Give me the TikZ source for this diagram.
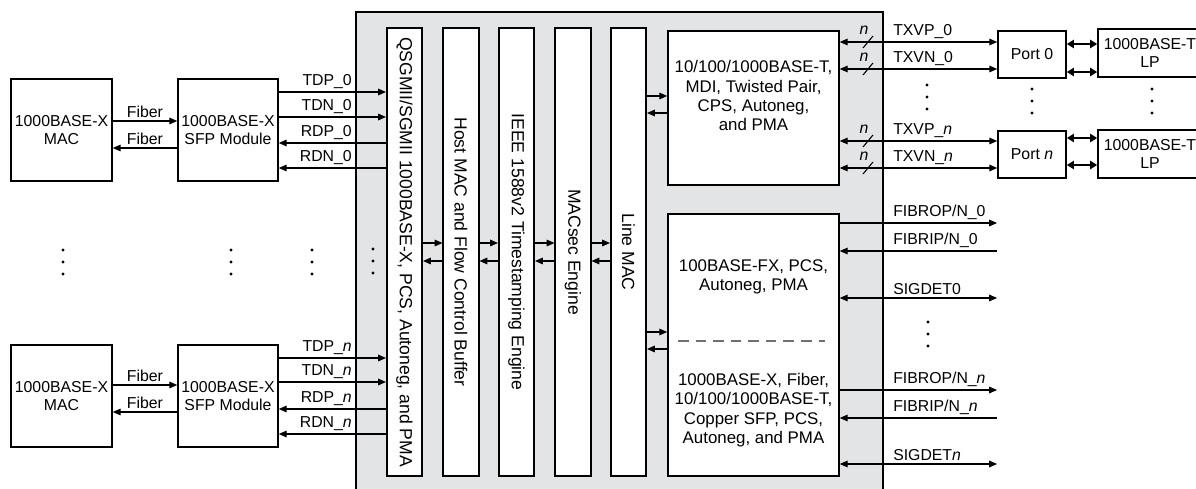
\documentclass[tikz,border=0pt]{standalone}
\usepackage{fontspec}
\setmainfont{Liberation Sans}
\usetikzlibrary{arrows.meta}
\definecolor{hub-gray}{HTML}{E3E4E6}
\definecolor{dash-gray}{HTML}{707070}

\begin{document}
\begin{tikzpicture}[x=0.02cm, y=-0.02cm,
        every node/.style={font=\fontsize{9}{10.5}\selectfont},
        >={Triangle[length=4.5pt,width=3.8pt]},
        blk/.style={draw, line width=0.9pt, fill=white, inner sep=0pt, align=center},
        col/.style={blk, minimum width=0.71cm, minimum height=8.96cm,
                    font=\fontsize{10}{12}\selectfont},
        phytext/.style={font=\fontsize{9.6}{11}\selectfont},
        sig/.style={line width=0.6pt},
        lnk/.style={{Triangle[length=4pt,width=4.6pt]}-{Triangle[length=4pt,width=4.6pt]},
                    line width=1.3pt},
        lbl/.style={inner sep=1.5pt}]
      \useasboundingbox (0,0) rectangle (1196,489);
      \clip (0,0) rectangle (1196,489);

      \node[draw, line width=1.3pt, fill=hub-gray, inner sep=0pt,
            minimum width=10.54cm, minimum height=9.66cm]
            (hub) at (619.5,253.5) {};

      \node[col] (qsg) at (404.5,252)
            {\rotatebox{-90}{QSGMII/SGMII 1000BASE-X, PCS, Autoneg, and PMA}};
      \node[col] (host) at (461,252)
            {\rotatebox{-90}{Host MAC and Flow Control Buffer}};
      \node[col] (ieee) at (516.5,252)
            {\rotatebox{-90}{IEEE 1588v2 Timestamping Engine}};
      \node[col] (msec) at (573,252) {\rotatebox{-90}{MACsec Engine}};
      \node[col] (lmac) at (628.5,252) {\rotatebox{-90}{Line MAC}};

      \node[blk, phytext, minimum width=3.42cm, minimum height=3.08cm]
            (phy) at (753.5,108)
            {10/100/1000BASE-T,\\MDI, Twisted Pair,\\CPS, Autoneg,\\and PMA\\[3pt]};
      \node[blk, minimum width=3.42cm, minimum height=5.24cm]
            (fib) at (753.5,345) {};
      \node[phytext, align=center] (fibtxtA) at (753.5,277)
            {100BASE-FX, PCS,\\Autoneg, PMA};
      \node[phytext, align=center] (fibtxtB) at (753.5,410)
            {1000BASE-X, Fiber,\\10/100/1000BASE-T,\\Copper SFP, PCS,\\Autoneg, and PMA};
      \draw[line width=0.7pt, dash-gray, dash pattern=on 6pt off 4pt] (678,341) -- (825,341);

      \node[blk, minimum width=2.02cm, minimum height=2.04cm]
            (macA) at (61.5,130) {1000BASE-X\\MAC};
      \node[blk, minimum width=2.0cm, minimum height=2.04cm]
            (sfpA) at (228,130) {1000BASE-X\\SFP Module};
      \node[blk, minimum width=2.02cm, minimum height=2.04cm]
            (macB) at (61.5,396) {1000BASE-X\\MAC};
      \node[blk, minimum width=2.0cm, minimum height=2.04cm]
            (sfpB) at (228,396) {1000BASE-X\\SFP Module};

      \node[blk, minimum width=1.36cm, minimum height=0.94cm]
            (port0) at (1032,54.5) {Port 0};
      \node[blk, minimum width=1.36cm, minimum height=0.94cm]
            (portN) at (1032,154.5) {Port \textit{n}};
      \node[blk, minimum width=2.08cm, minimum height=0.96cm]
            (lp0) at (1150,53) {1000BASE-T\\LP};
      \node[blk, minimum width=2.08cm, minimum height=0.96cm]
            (lpN) at (1150,154) {1000BASE-T\\LP};
      \coordinate (fibEnd) at (997,0);

      % fiber links
      \foreach \m/\s/\y in {macA/sfpA/121, macB/sfpB/385} {
        \draw[sig, ->] (\m.east |- 0,\y) -- node[lbl, above] (fib\y) {Fiber}
              (\s.west |- 0,\y);
        \draw[sig, ->] (\s.west |- 0,\y+27) -- node[lbl, above] (fibr\y) {Fiber}
              (\m.east |- 0,\y+27);
      }

      % serdes lanes
      \foreach \s/\y/\txt in {sfpA/92/TDP\_0, sfpA/117/TDN\_0,
                              sfpB/358/TDP\_\textit{n}, sfpB/382/TDN\_\textit{n}}
        \draw[sig, ->] (\s.east |- 0,\y) -- (hub.west |- 0,\y)
              node[lbl, above left] (tx\y) {\txt} -- (qsg.west |- 0,\y);
      \foreach \s/\y/\txt in {sfpA/143/RDP\_0, sfpA/168/RDN\_0,
                              sfpB/409/RDP\_\textit{n}, sfpB/434/RDN\_\textit{n}}
        \draw[sig, <-] (\s.east |- 0,\y) -- (hub.west |- 0,\y)
              node[lbl, above left] (rx\y) {\txt} -- (qsg.west |- 0,\y);

      % datapath
      \foreach \a/\b in {qsg/host, host/ieee, ieee/msec, msec/lmac} {
        \draw[sig, ->] (\a.east |- 0,243) -- (\b.west |- 0,243);
        \draw[sig, <-] (\a.east |- 0,261) -- (\b.west |- 0,261);
      }
      \draw[sig, ->] (lmac.east |- 0,96) -- (phy.west |- 0,96);
      \draw[sig, <-] (lmac.east |- 0,113) -- (phy.west |- 0,113);
      \draw[sig, ->] (lmac.east |- 0,332) -- (fib.west |- 0,332);
      \draw[sig, <-] (lmac.east |- 0,349) -- (fib.west |- 0,349);

      % copper ports
      \foreach \p/\y/\txt in {port0/42/TXVP\_0, port0/69/TXVN\_0,
                              portN/141/TXVP\_\textit{n}, portN/168/TXVN\_\textit{n}} {
        \draw[sig, <->] (phy.east |- 0,\y) -- (hub.east |- 0,\y)
              node[lbl, above right, xshift=0.12cm] (cu\y) {\txt} -- (\p.west |- 0,\y);
        \draw[sig] (863,\y+6) -- (873,\y-6);
        \node[lbl] (bus\y) at (864,\y-12) {\textit{n}};
      }
      \draw[lnk] (port0.east |- 0,44) -- (lp0.west |- 0,44);
      \draw[lnk] (port0.east |- 0,72) -- (lp0.west |- 0,72);
      \draw[lnk] (portN.east |- 0,138) -- (lpN.west |- 0,138);
      \draw[lnk] (portN.east |- 0,165) -- (lpN.west |- 0,165);

      % fiber / sigdet pins
      \foreach \y/\dir/\txt in {223/->/{FIBROP/N\_0}, 251/<-/{FIBRIP/N\_0},
                                298/<->/SIGDET0, 390/->/{FIBROP/N\_\textit{n}},
                                418/<-/{FIBRIP/N\_\textit{n}}, 464/<->/SIGDET\textit{n}}
        \draw[sig, \dir] (fib.east |- 0,\y) -- (hub.east |- 0,\y)
              node[lbl, above right, xshift=0.12cm] (pin\y) {\txt} -- (fibEnd |- 0,\y);

      \foreach \x/\y in {63/250, 231/250, 312/250, 373/249, 927/85,
                         1032/89, 1152/89, 928/322}
        \foreach \d in {0,12,24}
          \fill (\x,\y+\d) circle (0.9pt);
    \end{tikzpicture}
\end{document}
